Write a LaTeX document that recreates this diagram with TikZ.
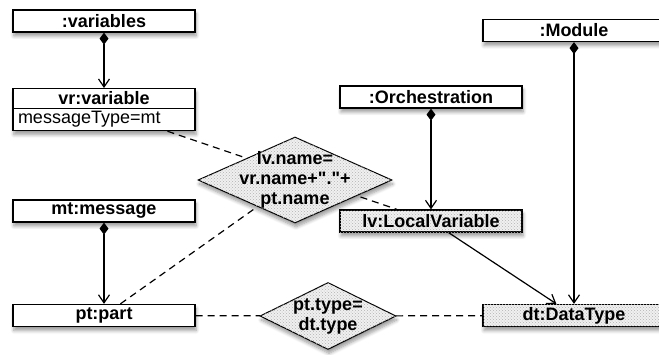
\documentclass[tikz,border=0pt]{standalone}
\usepackage{fontspec}
\setmainfont{Liberation Sans}[Ligatures=TeXOff]
\usetikzlibrary{shapes.geometric,shapes.multipart,arrows.meta,patterns,shadows.blur,backgrounds}

\begin{document}
\begin{tikzpicture}[x=1pt,y=1pt,
  softshadow/.style={blur shadow={shadow xshift=1pt,shadow yshift=-4pt,shadow blur steps=6,shadow blur radius=3.5pt}},
  obj/.style={draw,line width=1.3pt,fill=white,minimum width=182pt,minimum height=22pt,inner sep=0pt,softshadow},
  dotfill/.style={fill=gray!12,postaction={pattern=crosshatch dots,pattern color=gray!60}},
  cond/.style={shape=diamond,draw,line width=1pt,dotfill,softshadow,inner sep=-8pt,align=center},
  comp/.style={line width=1.2pt,{Diamond[length=12pt,width=9pt]}-{Straight Barb[length=8pt,width=11pt]}},
  arr/.style={line width=1.2pt,-{Straight Barb[length=8pt,width=11pt]}},
  link/.style={line width=1.2pt,dash pattern=on 7pt off 5pt}]
  \bfseries\fontsize{18}{20}\selectfont
  \clip (0,0) rectangle (659,354);
  \node[obj] (var) at (104,333) {:variables};
  \node[obj,rectangle split,rectangle split parts=2,anchor=north,text width=172pt,
        inner xsep=5pt,inner ysep=2.5pt,minimum height=0pt] (vr) at (104,266)
        {\centering vr:variable\par\nodepart{two}\mdseries messageType=mt};
  \node[obj] (msg) at (104,143) {mt:message};
  \node[obj] (part) at (104,38.5) {pt:part};
  \node[obj] (orch) at (431,257) {:Orchestration};
  \node[obj] (mod) at (574,323.5) {:Module};
  \node[obj,dotfill] (lv) at (431,133) {lv:LocalVariable};
  \node[obj,dotfill] (dt) at (574,38.5) {dt:DataType};
  \node[cond,shape aspect=2.26,minimum width=194pt,minimum height=86pt] (c1) at (295,174)
        {lv.name=\\vr.name+"."+\\pt.name};
  \node[cond,shape aspect=2.03,minimum width=136pt,minimum height=67pt] (c2) at (328,38)
        {pt.type=\\dt.type};
  \begin{scope}[on background layer]
    \draw[link] (vr) -- (lv);
    \draw[link] (part) -- (c1.center);
    \draw[link] (part) -- (c2) -- (dt);
  \end{scope}
  \draw[comp] (var) -- (vr);
  \draw[comp] (msg) -- (part);
  \draw[comp] (orch) -- (lv);
  \draw[comp] (mod) -- (dt);
  \draw[arr] (lv) -- (dt);
\end{tikzpicture}
\end{document}
